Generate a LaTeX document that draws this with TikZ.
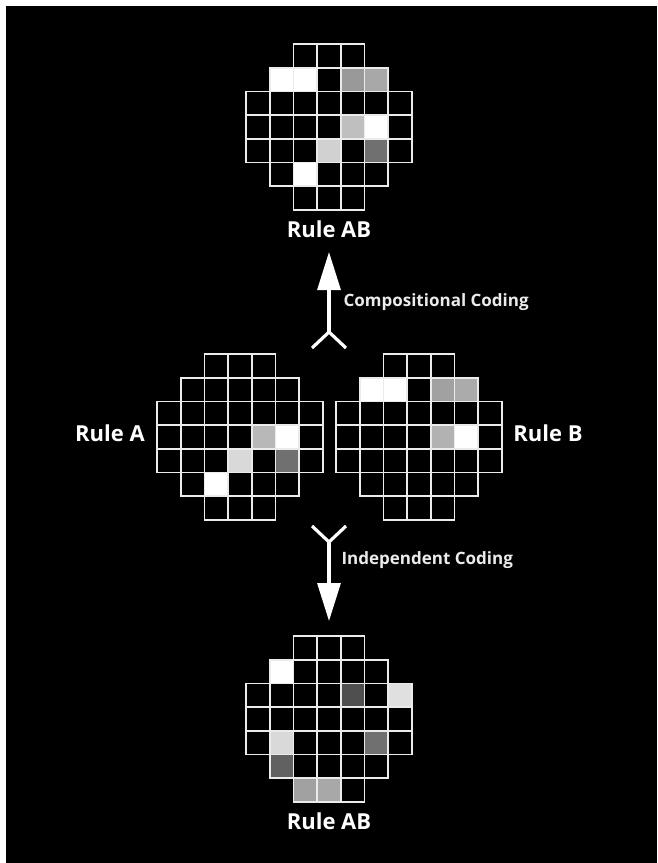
\documentclass[tikz,border=0pt]{standalone}
\usepackage{fontspec}
\setmainfont{Open Sans}
\usetikzlibrary{arrows.meta}
\newcommand{\FL}{\fontsize{22}{26}\selectfont\bfseries}
\newcommand{\FS}{\fontsize{17}{20}\selectfont\bfseries}
\newcommand{\cellgrid}[3]{%
  \begin{scope}[shift={(#1,#2)}]
    \foreach \row/\col/\g in {#3}
      \fill[white!\g!black] (\col*23.7,\row*23.7) rectangle ++(23.7,23.7);
    \foreach \row/\a/\b in {0/2/4,1/1/5,2/0/6,3/0/6,4/0/6,5/1/5,6/2/4}
      \foreach \col in {\a,...,\b}
        \draw[cell] (\col*23.7,\row*23.7) rectangle ++(23.7,23.7);
  \end{scope}}

\begin{document}
\begin{tikzpicture}[x=1pt,y=-1pt]
\tikzstyle{cell}=[white!92!black,line width=1.6pt]
\tikzstyle{rulename}=[draw=none,fill=none,white,font=\FL]
\tikzstyle{codename}=[draw=none,fill=none,white!92!black,font=\FS,anchor=west]
\tikzstyle{fork}=[white,line width=3.2pt]
\tikzstyle{arrow}=[fork,-{Triangle[width=23pt,length=38pt]}]

\fill[white] (0,0) rectangle (657,863);
\fill[black] (6,6) rectangle (657,863);

\cellgrid{246}{44}{1/1/100,1/2/100,1/4/60,1/5/66,3/4/75,3/5/100,4/3/82,4/5/44,5/2/100}
\cellgrid{157}{354}{3/4/72,3/5/100,4/3/85,4/5/44,5/2/100}
\cellgrid{336}{354}{1/1/100,1/2/100,1/4/63,1/5/67,3/4/70,3/5/100}
\cellgrid{246}{636}{1/1/100,2/4/31,2/6/88,4/1/85,4/5/44,5/1/38,6/2/63,6/3/66}

\node[rulename] (topab) at (329,229) {Rule AB};
\node[rulename] (rulea) at (110,433) {Rule A};
\node[rulename] (ruleb) at (548,433) {Rule B};
\node[rulename] (botab) at (329,821) {Rule AB};

\coordinate (uptip) at (329,252);
\coordinate (upjoin) at (329,332);
\coordinate (upl) at (312,348);
\coordinate (upr) at (346,348);
\draw[fork] (upl) -- (upjoin) -- (upr);
\draw[arrow] (upjoin) -- (uptip);
\node[codename] (comp) at (340,302) {Compositional Coding};

\coordinate (dnl) at (312,526);
\coordinate (dnr) at (346,526);
\coordinate (dnjoin) at (329,542);
\coordinate (dntip) at (329,621);
\draw[fork] (dnl) -- (dnjoin) -- (dnr);
\draw[arrow] (dnjoin) -- (dntip);
\node[codename] (indep) at (338,560) {Independent Coding};
\end{tikzpicture}
\end{document}
